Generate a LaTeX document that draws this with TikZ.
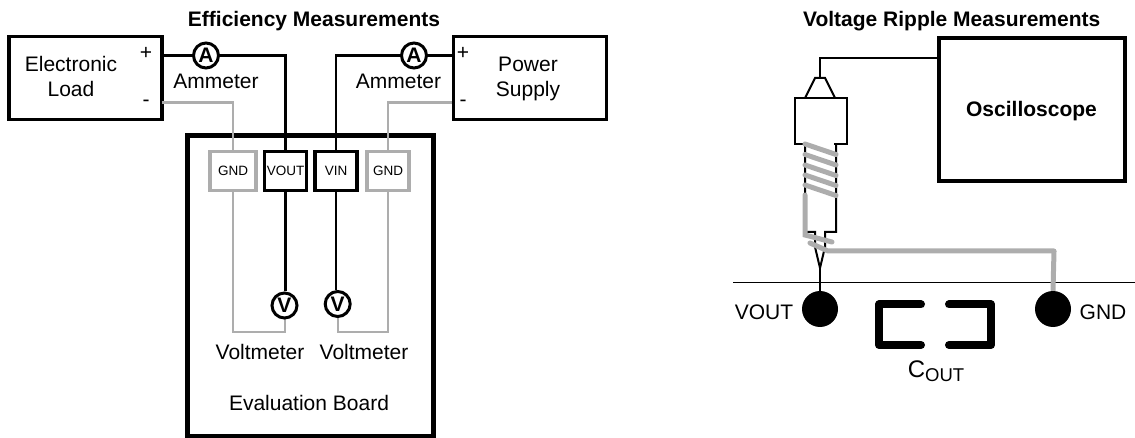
\documentclass[tikz,border=0pt]{standalone}
\usepackage{fontspec}
\setmainfont{Liberation Sans}
\tikzset{
    boxlbl/.style={font=\fontsize{21}{25}\selectfont, inner sep=0pt, align=center},
    titlelbl/.style={font=\fontsize{21}{25}\selectfont\bfseries, inner sep=0pt},
    pinlbl/.style={font=\fontsize{21}{25}\selectfont, inner sep=0pt},
    instbox/.style={draw, line width=3.3pt, inner sep=0pt, minimum width=153pt, minimum height=83pt},
    termbox/.style={draw, line width=3.5pt, inner sep=0pt, minimum height=39pt, font=\fontsize{13.5}{16}\selectfont},
    meter/.style={draw, circle, fill=white, line width=3pt, inner sep=0pt, minimum size=25pt, font=\fontsize{21}{25}\selectfont\bfseries},
    wire/.style={line width=2.4pt},
    gndwire/.style={line width=2.4pt, draw=wiregray},
    probe/.style={line width=2pt},
    coil/.style={line width=5pt, draw=wiregray, line cap=round},
    capline/.style={line width=8pt, line cap=round, line join=round},
    pad/.style={circle, fill=black, inner sep=0pt, minimum size=36pt},
}
\definecolor{wiregray}{gray}{0.68}
\begin{document}
\begin{tikzpicture}[x=1pt,y=-1pt]
    \useasboundingbox (0,0) rectangle (1135,438);
    % efficiency side
    \node[titlelbl] at (314,21.5) {Efficiency Measurements};
    \node[draw, line width=5pt, inner sep=0pt, minimum width=245.5pt, minimum height=301pt] (board) at (310.7,286) {};
    \node[instbox] (load) at (85.5,78) {};
    \node[instbox] (supply) at (530,78) {};
    \node[boxlbl] (loadlbl) at (71,76.5) {Electronic\\Load};
    \node[boxlbl] (supplylbl) at (528,79) {Power\\Supply};
    \node[pinlbl] (loadplus) at (146,53) {+};
    \node[pinlbl] (loadminus) at (146,103) {-};
    \node[pinlbl] (supplyplus) at (463,53) {+};
    \node[pinlbl] (supplyminus) at (463,103) {-};
    \node[termbox, draw=wiregray, minimum width=46pt] (gndl) at (233,171) {GND};
    \node[termbox, minimum width=42pt] (vout) at (285.5,171) {VOUT};
    \node[termbox, minimum width=42pt] (vin) at (336,171) {VIN};
    \node[termbox, draw=wiregray, minimum width=42pt] (gndr) at (388,171) {GND};
    \coordinate (loadp) at (162,55.5);
    \coordinate (loadm) at (162,102.5);
    \coordinate (supplyp) at (452,55.5);
    \coordinate (supplym) at (452,102.5);
    \coordinate (loopl) at (285,332);
    \coordinate (loopr) at (338,332);
    % wires
    \draw[gndwire] (loadm) -| (gndl.north);
    \draw[gndwire] (supplym) -| (gndr.north);
    \draw[gndwire] (gndl.south) |- (loopl) -- (285,300);
    \draw[gndwire] (gndr.south) |- (loopr) -- (338,300);
    \node[meter] (ammeterl) at (206,55.5) {A};
    \node[meter] (ammeterr) at (414,55.5) {A};
    \node[meter] (voltl) at (284.5,305.5) {V};
    \node[meter] (voltr) at (337.7,304) {V};
    \draw[wire] (loadp) -- (ammeterl);
    \draw[wire] (ammeterl) -| (vout.north);
    \draw[wire] (supplyp) -- (ammeterr);
    \draw[wire] (ammeterr) -| (vin.north);
    \draw[wire] (vout.south) -- (vout.south |- voltl.north);
    \draw[wire] (vin.south) -- (vin.south |- voltr.north);
    \node[boxlbl] (ammlbll) at (216,81) {Ammeter};
    \node[boxlbl] (ammlblr) at (398.5,81) {Ammeter};
    \node[boxlbl] (voltlbll) at (260,352) {Voltmeter};
    \node[boxlbl] (voltlblr) at (364,352) {Voltmeter};
    \node[boxlbl] (boardlbl) at (309,403) {Evaluation Board};
    % ripple side
    \node[titlelbl] at (951.7,21.5) {Voltage Ripple Measurements};
    \node[draw, line width=4pt, inner sep=0pt, minimum width=186pt, minimum height=143pt] (scope) at (1031.5,110) {};
    \node[titlelbl] (scopelbl) at (1031.5,111) {Oscilloscope};
    \coordinate (tip) at (820,78);
    \draw[wire] (scope.west |- 0,58) -| (tip);
    \draw[probe, line join=miter] (805,98) -- (815,78) -- (825,78) -- (835,98);
    \draw[probe] (795,98) rectangle (847,144);
    \draw[probe] (805,144) -- (805,232) -- (815,232) -- (815,247) -- (820,268) -- (825,247) -- (825,232) -- (836,232) -- (836,144);
    \draw[wire] (820,268) -- (820,300);
    \draw[line width=1.8pt] (733,282.5) -- (1135,282.5);
    \draw[draw=white, line width=2.5pt] (807,144) -- (834,144);
    \node[pad] (padv) at (820,309) {};
    \node[pad] (padg) at (1053,309) {};
    \foreach \y in {144,154.5,165,175,185} {
        \draw[coil] (805,\y) -- (836,\y+10.5);
    }
    \draw[coil] (805,195) -- (805,235) -- (832,242);
    \draw[coil, line join=round] (810,243) -- (828,251) -- (1054,251);
    \draw[draw=wiregray, line width=5pt] (1054,251) -- (padg.north);
    \node[boxlbl] (voutlbl) at (764,312) {VOUT};
    \node[boxlbl] (gndlbl) at (1103,312) {GND};
    \draw[capline] (921,304.5) -- (879,304.5) -- (879,345) -- (921,345);
    \draw[capline] (949,304.5) -- (991,304.5) -- (991,345) -- (949,345);
    \node[boxlbl, font=\fontsize{24}{28}\selectfont] (coutlbl) at (936,371) {C\raisebox{-4pt}{\fontsize{18.5}{20}\selectfont OUT}};
\end{tikzpicture}
\end{document}
